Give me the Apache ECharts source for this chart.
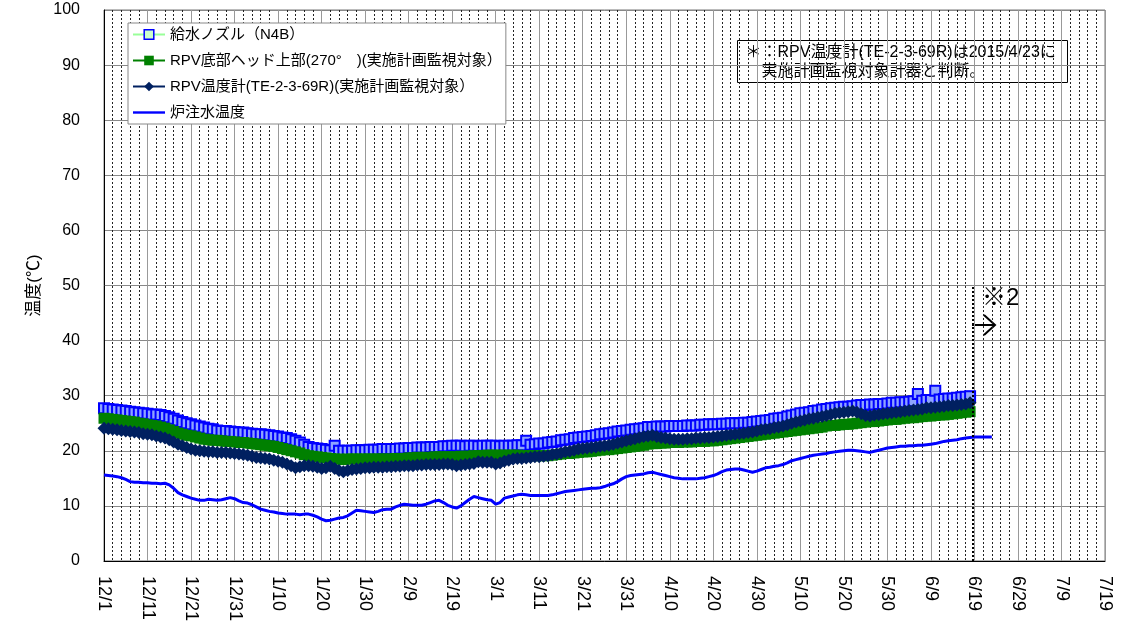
<!DOCTYPE html>
<html>
<head>
<meta charset="utf-8">
<script src="https://cdn.jsdelivr.net/npm/echarts@6/dist/echarts.min.js"></script>
<style>
  html, body { margin: 0; padding: 0; background: #fff; }
  #chart { width: 1126px; height: 624px; }
</style>
</head>
<body>
<div id="chart"></div>
<script>
// x axis: days counted from 12/1, one label every 10 days
const tickLabels = ['12/1', '12/11', '12/21', '12/31', '1/10', '1/20', '1/30', '2/9', '2/19', '3/1',
	'3/11', '3/21', '3/31', '4/10', '4/20', '4/30', '5/10', '5/20', '5/30', '6/9', '6/19', '6/29', '7/9', '7/19'];

const seriesNames = [
	'給水ノズル（N4B）',
	'RPV底部ヘッド上部(270°　)(実施計画監視対象）',
	'RPV温度計(TE-2-3-69R)(実施計画監視対象）',
	'炉注水温度',
];

// daily readings, first value = 12/1
const feedNozzle = [
	27.7, 27.6, 27.5, 27.4, 27.3, 27.2, 27.1, 27.0, 26.9, 26.8,
	26.7, 26.6, 26.6, 26.5, 26.3, 26.1, 25.8, 25.5, 25.2, 25.0,
	24.8, 24.6, 24.4, 24.2, 24.0, 23.9, 23.7, 23.6, 23.6, 23.5,
	23.4, 23.3, 23.3, 23.2, 23.1, 23.0, 23.0, 22.9, 22.8, 22.7,
	22.6, 22.4, 22.3, 22.1, 21.8, 21.5, 21.1, 20.7, 20.5, 20.4,
	20.3, 20.2, 20.1, 20.9, 20.0, 20.0, 20.0, 20.0, 20.1, 20.1,
	20.1, 20.2, 20.2, 20.2, 20.3, 20.3, 20.3, 20.3, 20.4, 20.4,
	20.5, 20.5, 20.6, 20.6, 20.6, 20.7, 20.7, 20.7, 20.8, 20.8,
	20.9, 20.9, 20.9, 20.8, 20.9, 20.9, 20.8, 20.9, 20.9, 20.9,
	20.9, 20.8, 20.9, 20.9, 20.9, 21.0, 21.0, 21.8, 21.1, 21.2,
	21.3, 21.3, 21.5, 21.6, 21.7, 21.9, 22.0, 22.1, 22.3, 22.4,
	22.5, 22.6, 22.7, 22.8, 23.0, 23.1, 23.2, 23.3, 23.5, 23.6,
	23.7, 23.8, 23.9, 24.0, 24.1, 24.3, 24.3, 24.4, 24.4, 24.4,
	24.5, 24.5, 24.5, 24.5, 24.6, 24.6, 24.6, 24.7, 24.7, 24.8,
	24.8, 24.8, 24.9, 24.9, 25.0, 25.0, 25.0, 25.1, 25.1, 25.2,
	25.3, 25.4, 25.5, 25.6, 25.8, 25.9, 26.0, 26.2, 26.4, 26.6,
	26.8, 26.9, 27.0, 27.2, 27.3, 27.5, 27.6, 27.7, 27.8, 27.9,
	28.0, 28.0, 28.1, 28.2, 28.3, 28.3, 28.4, 28.4, 28.5, 28.5,
	28.6, 28.7, 28.7, 28.8, 28.8, 28.9, 29.0, 30.3, 29.1, 29.2,
	29.2, 30.9, 29.3, 29.4, 29.5, 29.5, 29.6, 29.7, 29.8, 29.9,
];

const bottomHead = [
	25.9, 25.8, 25.7, 25.6, 25.5, 25.4, 25.3, 25.2, 25.0, 24.9,
	24.7, 24.6, 24.5, 24.3, 24.1, 23.8, 23.5, 23.2, 23.0, 22.8,
	22.7, 22.5, 22.3, 22.1, 22.0, 21.9, 21.9, 21.8, 21.7, 21.7,
	21.6, 21.5, 21.5, 21.4, 21.3, 21.2, 21.1, 21.0, 20.9, 20.8,
	20.6, 20.4, 20.2, 20.0, 19.8, 19.6, 19.3, 19.1, 19.0, 18.9,
	18.8, 18.7, 18.6, 18.5, 18.5, 18.4, 18.5, 18.5, 18.5, 18.5,
	18.5, 18.5, 18.5, 18.5, 18.5, 18.5, 18.5, 18.6, 18.6, 18.6,
	18.7, 18.7, 18.8, 18.8, 18.8, 18.8, 18.9, 18.9, 18.9, 18.9,
	18.9, 18.9, 19.0, 19.0, 19.0, 19.1, 19.1, 19.1, 19.2, 19.2,
	19.2, 19.2, 19.2, 19.2, 19.2, 19.2, 19.1, 19.1, 19.1, 19.1,
	19.1, 19.1, 19.1, 19.2, 19.3, 19.4, 19.5, 19.5, 19.6, 19.7,
	19.8, 19.8, 19.9, 20.0, 20.1, 20.2, 20.2, 20.3, 20.4, 20.5,
	20.6, 20.7, 20.8, 20.9, 21.0, 21.2, 21.3, 21.3, 21.4, 21.4,
	21.5, 21.5, 21.5, 21.6, 21.6, 21.6, 21.7, 21.7, 21.7, 21.8,
	21.8, 21.9, 22.0, 22.1, 22.2, 22.3, 22.4, 22.5, 22.6, 22.7,
	22.8, 22.9, 23.0, 23.1, 23.2, 23.3, 23.4, 23.5, 23.6, 23.7,
	23.8, 23.9, 24.0, 24.1, 24.2, 24.3, 24.5, 24.6, 24.6, 24.7,
	24.8, 24.8, 24.9, 25.0, 25.1, 25.2, 25.3, 25.3, 25.4, 25.5,
	25.6, 25.7, 25.7, 25.8, 25.9, 26.0, 26.0, 26.1, 26.2, 26.3,
	26.3, 26.4, 26.5, 26.5, 26.6, 26.7, 26.8, 26.9, 27.0, 27.1,
];

const rpvThermo = [
	24.1, 24.0, 23.9, 23.8, 23.7, 23.6, 23.5, 23.4, 23.3, 23.1,
	23.0, 22.9, 22.7, 22.5, 22.3, 22.0, 21.6, 21.2, 20.9, 20.6,
	20.3, 20.1, 20.0, 19.9, 19.8, 19.8, 19.7, 19.7, 19.7, 19.6,
	19.5, 19.4, 19.3, 19.2, 19.0, 18.8, 18.7, 18.6, 18.5, 18.3,
	18.1, 17.9, 17.6, 17.3, 16.9, 17.1, 17.3, 17.3, 17.2, 17.0,
	16.8, 16.9, 17.2, 16.8, 16.4, 16.2, 16.4, 16.6, 16.7, 16.8,
	16.9, 16.9, 17.0, 17.0, 17.0, 17.1, 17.1, 17.2, 17.2, 17.3,
	17.3, 17.3, 17.4, 17.4, 17.5, 17.5, 17.5, 17.5, 17.6, 17.6,
	17.5, 17.3, 17.4, 17.5, 17.6, 17.7, 18.0, 17.9, 17.9, 17.9,
	17.6, 17.8, 18.1, 18.3, 18.5, 18.6, 18.6, 18.7, 18.8, 18.9,
	18.9, 19.0, 19.1, 19.3, 19.4, 19.6, 19.8, 19.9, 20.1, 20.3,
	20.4, 20.5, 20.6, 20.7, 20.8, 20.9, 21.0, 21.2, 21.4, 21.6,
	21.8, 22.0, 22.2, 22.4, 22.6, 22.7, 22.8, 22.6, 22.4, 22.3,
	22.2, 22.1, 22.1, 22.1, 22.2, 22.2, 22.3, 22.3, 22.4, 22.4,
	22.5, 22.6, 22.7, 22.8, 22.9, 23.0, 23.1, 23.2, 23.3, 23.4,
	23.6, 23.8, 23.9, 24.0, 24.2, 24.3, 24.5, 24.7, 25.0, 25.2,
	25.4, 25.6, 25.8, 25.9, 26.1, 26.2, 26.4, 26.6, 26.8, 26.9,
	27.0, 27.1, 27.2, 27.0, 26.7, 26.4, 26.3, 26.5, 26.6, 26.7,
	26.8, 26.9, 27.0, 27.1, 27.2, 27.3, 27.4, 27.5, 27.6, 27.8,
	27.8, 27.9, 28.0, 28.1, 28.2, 28.2, 28.3, 28.4, 28.5, 28.7,
];

const injectionWater = [
	15.6, 15.5, 15.4, 15.3, 15.1, 14.8, 14.4, 14.3, 14.3, 14.2,
	14.2, 14.1, 14.1, 14.0, 14.1, 13.8, 13.2, 12.4, 12.0, 11.7,
	11.4, 11.2, 11.0, 11.0, 11.2, 11.1, 11.0, 11.1, 11.3, 11.5,
	11.3, 10.9, 10.6, 10.5, 10.2, 9.8, 9.4, 9.2, 9.0, 8.9,
	8.7, 8.6, 8.5, 8.5, 8.5, 8.4, 8.5, 8.5, 8.3, 8.0,
	7.6, 7.3, 7.4, 7.6, 7.8, 7.9, 8.2, 8.7, 9.2, 9.1,
	9.0, 8.9, 8.8, 9.0, 9.3, 9.4, 9.4, 9.8, 10.1, 10.3,
	10.2, 10.1, 10.1, 10.1, 10.3, 10.6, 10.9, 11.0, 10.6, 10.1,
	9.8, 9.6, 10.0, 10.6, 11.2, 11.7, 11.5, 11.3, 11.1, 11.0,
	10.3, 10.6, 11.4, 11.6, 11.8, 12.0, 12.1, 12.0, 11.9, 11.9,
	11.9, 11.9, 11.9, 12.0, 12.2, 12.4, 12.6, 12.7, 12.8, 12.9,
	13.0, 13.1, 13.2, 13.2, 13.3, 13.5, 13.8, 14.0, 14.4, 14.9,
	15.3, 15.5, 15.6, 15.7, 15.8, 16.0, 16.1, 15.9, 15.7, 15.5,
	15.3, 15.1, 15.0, 14.9, 14.9, 14.9, 14.9, 15.0, 15.1, 15.3,
	15.5, 15.8, 16.2, 16.5, 16.6, 16.7, 16.7, 16.5, 16.3, 16.1,
	16.3, 16.6, 16.9, 17.0, 17.2, 17.3, 17.5, 17.8, 18.2, 18.4,
	18.6, 18.8, 19.0, 19.2, 19.3, 19.4, 19.5, 19.7, 19.8, 19.9,
	20.0, 20.1, 20.1, 20.0, 19.9, 19.8, 19.7, 19.9, 20.1, 20.3,
	20.5, 20.6, 20.7, 20.8, 20.8, 20.9, 20.9, 21.0, 21.0, 21.1,
	21.2, 21.3, 21.5, 21.7, 21.8, 21.9, 22.0, 22.2, 22.3, 22.4,
	22.5, 22.5, 22.5, 22.5, 22.5,
];

// day of the dotted ※2 line
const markDay = 199.6;

const font = "'Liberation Sans', 'Noto Sans CJK JP', sans-serif";
const toPairs = (vals) => vals.map((v, i) => [i, v]);

const chart = echarts.init(document.getElementById('chart'));

const series = [
	{
		name: seriesNames[0],
		type: 'line',
		symbol: 'rect',
		symbolSize: 10,
		showAllSymbol: true,
		lineStyle: { color: '#99ff99', width: 1 },
		itemStyle: { color: '#8ea4ff', borderColor: '#0000ff', borderWidth: 2 },
		data: toPairs(feedNozzle),
	},
	{
		name: seriesNames[1],
		type: 'line',
		symbol: 'rect',
		symbolSize: 11,
		showAllSymbol: true,
		lineStyle: { color: '#008000', width: 2 },
		itemStyle: { color: '#008000' },
		data: toPairs(bottomHead),
	},
	{
		name: seriesNames[2],
		type: 'line',
		symbol: 'diamond',
		symbolSize: 13,
		showAllSymbol: true,
		lineStyle: { color: '#002060', width: 2 },
		itemStyle: { color: '#002060' },
		data: toPairs(rpvThermo),
	},
	{
		name: seriesNames[3],
		type: 'line',
		symbol: 'none',
		lineStyle: { color: '#0000ff', width: 3 },
		itemStyle: { color: '#0000ff' },
		data: toPairs(injectionWater),
		markLine: {
			silent: true,
			symbol: 'none',
			label: { show: false },
			lineStyle: { color: '#000', type: [2, 2], width: 2 },
			data: [[{ coord: [markDay, 0] }, { coord: [markDay, 50] }]],
		},
	},
];

chart.setOption({
	animation: false,
	backgroundColor: '#fff',
	textStyle: { fontFamily: font, color: '#000' },
	grid: {
		left: 104,
		right: 21,
		top: 10,
		bottom: 61,
		show: true,
		borderColor: '#777',
		borderWidth: 1,
	},
	legend: {
		orient: 'vertical',
		left: 128,
		top: 23,
		padding: [4, 4, 4, 4],
		itemGap: 11,
		itemWidth: 32,
		itemHeight: 12,
		backgroundColor: '#fff',
		borderColor: '#888',
		borderWidth: 1,
		textStyle: { fontSize: 15, color: '#000', fontFamily: font },
		data: [
			{ name: seriesNames[0], itemStyle: { color: '#ccffcc', borderColor: '#0000ff', borderWidth: 1.5 } },
			seriesNames[1],
			seriesNames[2],
			{ name: seriesNames[3], icon: 'path://M0,0H40V3H0Z' },
		],
	},
	xAxis: {
		type: 'value',
		min: 0,
		max: 230,
		interval: 10,
		axisLine: { lineStyle: { color: '#000' } },
		axisTick: { show: false },
		minorTick: { show: false, splitNumber: 5 },
		axisLabel: {
			rotate: -90,
			margin: 15,
			fontSize: 18,
			color: '#000',
			fontFamily: font,
			formatter: (v) => tickLabels[Math.round(v / 10)] || '',
		},
		splitLine: { show: true, lineStyle: { color: '#999', width: 1 } },
		minorSplitLine: { show: true, lineStyle: { color: '#222', type: [2, 2], width: 1 } },
	},
	yAxis: {
		type: 'value',
		min: 0,
		max: 100,
		interval: 10,
		name: '温度(℃)',
		nameLocation: 'middle',
		nameGap: 60,
		nameTextStyle: { fontSize: 17, color: '#000', fontFamily: font },
		axisLine: { show: true, lineStyle: { color: '#000' } },
		axisTick: { show: false },
		axisLabel: { margin: 24, fontSize: 16, color: '#000', fontFamily: font },
		splitLine: { lineStyle: { color: '#888', width: 1 } },
	},
	graphic: [
		{
			type: 'group',
			left: 737,
			top: 40,
			children: [
				{
					type: 'rect',
					shape: { x: 0, y: 0, width: 330, height: 42 },
					style: { fill: '#fff', stroke: '#000', lineWidth: 1 },
				},
				{
					type: 'text',
					x: 8,
					y: 3,
					style: {
						text: '＊：RPV温度計(TE-2-3-69R)は2015/4/23に\n　実施計画監視対象計器と判断。',
						font: '16px ' + font,
						lineHeight: 19,
						fill: '#000',
					},
				},
			],
		},
		{
			type: 'text',
			left: 982,
			top: 286,
			style: { text: '※2', font: '24px ' + font, fill: '#000' },
		},
		{
			type: 'polyline',
			shape: { points: [[972, 325], [995, 325]] },
			style: { stroke: '#000', lineWidth: 2, fill: null },
		},
		{
			type: 'polyline',
			shape: { points: [[984, 315], [995, 325], [984, 335]] },
			style: { stroke: '#000', lineWidth: 2, fill: null },
		},
	],
	series,
});
</script>
</body>
</html>
